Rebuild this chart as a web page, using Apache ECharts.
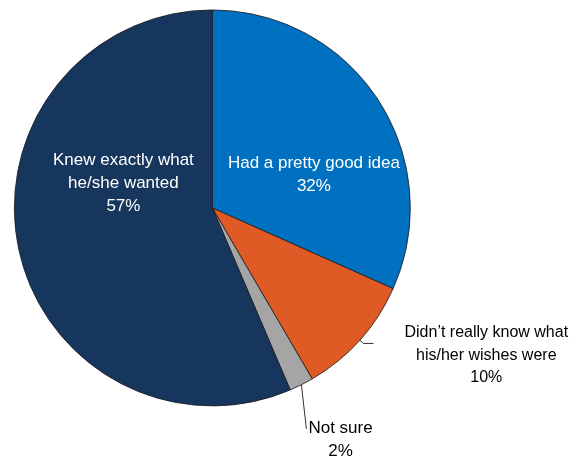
<!DOCTYPE html>
<html><head><meta charset="utf-8">
<script src="https://cdn.jsdelivr.net/npm/echarts@6/dist/echarts.min.js"></script>
<style>html,body{margin:0;padding:0;background:#fff}#c{width:577px;height:458px}</style>
</head><body><div id="c"></div>
<script>
const categories = ["Had a pretty good idea", "Didn\u2019t really know what\nhis/her wishes were", "Not sure", "Knew exactly what\nhe/she wanted"];
const values = [32, 10, 2, 57];
const colors = ["#0070C0", "#E05A26", "#A5A5A5", "#17365D"];
const inside = [true, false, false, true];

const chart = echarts.init(document.getElementById('c'), null, {renderer: 'canvas'});
const offsets = [[16, 22], [26, 12], [-16, 19], [11, -45]];
const sizes = [17, 16, 17, 17];
chart.setOption({
  animation: false,
  series: [{
    type: 'pie',
    center: ['36.8%', '45.4%'],
    radius: 198,
    startAngle: 90,
    clockwise: true,
    avoidLabelOverlap: false,
    itemStyle: {borderColor: '#1a1a1a', borderWidth: 0.8},
    data: categories.map((c, i) => ({
      name: c,
      value: values[i],
      itemStyle: {color: colors[i]},
      label: inside[i] ? {position: 'inside', color: '#fff'} : {position: 'outside', color: '#000'},
      labelLine: i === 1 ? {show: true, length: 5, length2: 10} : (i === 2 ? {show: true, length: 40, length2: 0} : {show: false})
    })),
    label: {
      fontFamily: 'Liberation Sans',
      fontSize: 17,
      lineHeight: 23,
      formatter: p => {
        const lines = (p.name + '\n' + p.value + '%').split('\n');
        const tag = sizes[p.dataIndex] === 16 ? 's' : 'c';
        return lines.map(l => '{' + tag + '|' + l + '}').join('\n');
      },
      rich: {
        c: {align: 'center', fontFamily: 'Liberation Sans', fontSize: 17, lineHeight: 23},
        s: {align: 'center', fontFamily: 'Liberation Sans', fontSize: 16, lineHeight: 22.5}
      }
    },
    labelLine: {lineStyle: {color: '#333', width: 1}},
    labelLayout: p => {
      const o = offsets[p.dataIndex];
      const res = {dx: o[0], dy: o[1]};
      if (p.dataIndex === 2 && p.labelLinePoints) {
        const a = p.labelLinePoints[0];
        res.labelLinePoints = [a, [a[0] + 5, a[1] + 44], [a[0] + 5, a[1] + 44]];
      }
      return res;
    }
  }]
});
</script></body></html>
